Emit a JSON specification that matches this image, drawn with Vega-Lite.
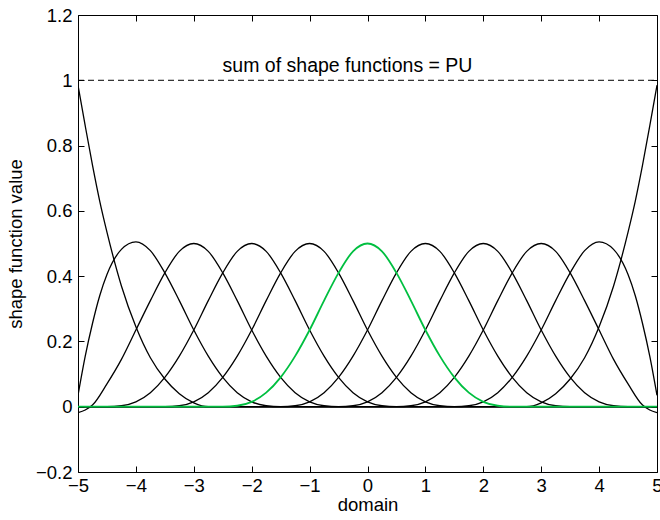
{
  "$schema": "https://vega.github.io/schema/vega-lite/v6.json",
  "width": 579,
  "height": 457,
  "autosize": "none",
  "padding": {"left": 78, "top": 15, "right": 3, "bottom": 48},
  "background": "white",
  "config": {
    "view": {"stroke": "black", "strokeWidth": 1},
    "font": "Liberation Sans",
    "axis": {
      "grid": false,
      "domain": false,
      "tickColor": "black",
      "tickSize": -6,
      "tickWidth": 1,
      "labelColor": "black",
      "labelFont": "Liberation Sans",
      "labelFontSize": 18.5,
      "titleFont": "Liberation Sans",
      "titleFontSize": 18.5,
      "titleFontWeight": "normal",
      "titleColor": "black"
    }
  },
  "datasets": {
    "curves": [
      {"s":"b-5","x":-5,"y":0.985},{"s":"b-5","x":-4.875,"y":0.86},{"s":"b-5","x":-4.75,"y":0.74},{"s":"b-5","x":-4.625,"y":0.63},{"s":"b-5","x":-4.5,"y":0.535},{"s":"b-5","x":-4.25,"y":0.37},{"s":"b-5","x":-4,"y":0.245},{"s":"b-5","x":-3.75,"y":0.15},{"s":"b-5","x":-3.5,"y":0.085},{"s":"b-5","x":-3.25,"y":0.04},{"s":"b-5","x":-3,"y":0.012},{"s":"b-5","x":-2.75,"y":0},{"s":"b-5","x":5,"y":0},

      {"s":"c-4","x":-5,"y":0.035},{"s":"c-4","x":-4.875,"y":0.155},{"s":"c-4","x":-4.75,"y":0.255},{"s":"c-4","x":-4.625,"y":0.34},{"s":"c-4","x":-4.5,"y":0.405},{"s":"c-4","x":-4.25,"y":0.482},{"s":"c-4","x":-4,"y":0.505},{"s":"c-4","x":-3.75,"y":0.478},{"s":"c-4","x":-3.5,"y":0.41},{"s":"c-4","x":-3.25,"y":0.325},{"s":"c-4","x":-3,"y":0.235},{"s":"c-4","x":-2.75,"y":0.155},{"s":"c-4","x":-2.5,"y":0.09},{"s":"c-4","x":-2.25,"y":0.043},{"s":"c-4","x":-2,"y":0.015},{"s":"c-4","x":-1.75,"y":0.003},{"s":"c-4","x":-1.5,"y":0},{"s":"c-4","x":5,"y":0},

      {"s":"c-3","x":-5,"y":-0.018},{"s":"c-3","x":-4.875,"y":-0.01},{"s":"c-3","x":-4.75,"y":0.005},{"s":"c-3","x":-4.5,"y":0.07},{"s":"c-3","x":-4.25,"y":0.145},{"s":"c-3","x":-4,"y":0.235},{"s":"c-3","x":-3.75,"y":0.325},{"s":"c-3","x":-3.5,"y":0.41},{"s":"c-3","x":-3.25,"y":0.476},{"s":"c-3","x":-3,"y":0.5},{"s":"c-3","x":-2.75,"y":0.476},{"s":"c-3","x":-2.5,"y":0.41},{"s":"c-3","x":-2.25,"y":0.325},{"s":"c-3","x":-2,"y":0.235},{"s":"c-3","x":-1.75,"y":0.155},{"s":"c-3","x":-1.5,"y":0.09},{"s":"c-3","x":-1.25,"y":0.043},{"s":"c-3","x":-1,"y":0.015},{"s":"c-3","x":-0.75,"y":0.003},{"s":"c-3","x":-0.5,"y":0},{"s":"c-3","x":5,"y":0},

      {"s":"c-2","x":-5,"y":0},{"s":"c-2","x":-4.5,"y":0},{"s":"c-2","x":-4.25,"y":0.003},{"s":"c-2","x":-4,"y":0.015},{"s":"c-2","x":-3.75,"y":0.043},{"s":"c-2","x":-3.5,"y":0.09},{"s":"c-2","x":-3.25,"y":0.155},{"s":"c-2","x":-3,"y":0.235},{"s":"c-2","x":-2.75,"y":0.325},{"s":"c-2","x":-2.5,"y":0.41},{"s":"c-2","x":-2.25,"y":0.476},{"s":"c-2","x":-2,"y":0.5},{"s":"c-2","x":-1.75,"y":0.476},{"s":"c-2","x":-1.5,"y":0.41},{"s":"c-2","x":-1.25,"y":0.325},{"s":"c-2","x":-1,"y":0.235},{"s":"c-2","x":-0.75,"y":0.155},{"s":"c-2","x":-0.5,"y":0.09},{"s":"c-2","x":-0.25,"y":0.043},{"s":"c-2","x":0,"y":0.015},{"s":"c-2","x":0.25,"y":0.003},{"s":"c-2","x":0.5,"y":0},{"s":"c-2","x":5,"y":0},

      {"s":"c-1","x":-5,"y":0},{"s":"c-1","x":-3.5,"y":0},{"s":"c-1","x":-3.25,"y":0.003},{"s":"c-1","x":-3,"y":0.015},{"s":"c-1","x":-2.75,"y":0.043},{"s":"c-1","x":-2.5,"y":0.09},{"s":"c-1","x":-2.25,"y":0.155},{"s":"c-1","x":-2,"y":0.235},{"s":"c-1","x":-1.75,"y":0.325},{"s":"c-1","x":-1.5,"y":0.41},{"s":"c-1","x":-1.25,"y":0.476},{"s":"c-1","x":-1,"y":0.5},{"s":"c-1","x":-0.75,"y":0.476},{"s":"c-1","x":-0.5,"y":0.41},{"s":"c-1","x":-0.25,"y":0.325},{"s":"c-1","x":0,"y":0.235},{"s":"c-1","x":0.25,"y":0.155},{"s":"c-1","x":0.5,"y":0.09},{"s":"c-1","x":0.75,"y":0.043},{"s":"c-1","x":1,"y":0.015},{"s":"c-1","x":1.25,"y":0.003},{"s":"c-1","x":1.5,"y":0},{"s":"c-1","x":5,"y":0},

      {"s":"c0","x":-5,"y":0},{"s":"c0","x":-2.5,"y":0},{"s":"c0","x":-2.25,"y":0.003},{"s":"c0","x":-2,"y":0.015},{"s":"c0","x":-1.75,"y":0.043},{"s":"c0","x":-1.5,"y":0.09},{"s":"c0","x":-1.25,"y":0.155},{"s":"c0","x":-1,"y":0.235},{"s":"c0","x":-0.75,"y":0.325},{"s":"c0","x":-0.5,"y":0.41},{"s":"c0","x":-0.25,"y":0.476},{"s":"c0","x":0,"y":0.5},{"s":"c0","x":0.25,"y":0.476},{"s":"c0","x":0.5,"y":0.41},{"s":"c0","x":0.75,"y":0.325},{"s":"c0","x":1,"y":0.235},{"s":"c0","x":1.25,"y":0.155},{"s":"c0","x":1.5,"y":0.09},{"s":"c0","x":1.75,"y":0.043},{"s":"c0","x":2,"y":0.015},{"s":"c0","x":2.25,"y":0.003},{"s":"c0","x":2.5,"y":0},{"s":"c0","x":5,"y":0},

      {"s":"c1","x":-5,"y":0},{"s":"c1","x":-1.5,"y":0},{"s":"c1","x":-1.25,"y":0.003},{"s":"c1","x":-1,"y":0.015},{"s":"c1","x":-0.75,"y":0.043},{"s":"c1","x":-0.5,"y":0.09},{"s":"c1","x":-0.25,"y":0.155},{"s":"c1","x":0,"y":0.235},{"s":"c1","x":0.25,"y":0.325},{"s":"c1","x":0.5,"y":0.41},{"s":"c1","x":0.75,"y":0.476},{"s":"c1","x":1,"y":0.5},{"s":"c1","x":1.25,"y":0.476},{"s":"c1","x":1.5,"y":0.41},{"s":"c1","x":1.75,"y":0.325},{"s":"c1","x":2,"y":0.235},{"s":"c1","x":2.25,"y":0.155},{"s":"c1","x":2.5,"y":0.09},{"s":"c1","x":2.75,"y":0.043},{"s":"c1","x":3,"y":0.015},{"s":"c1","x":3.25,"y":0.003},{"s":"c1","x":3.5,"y":0},{"s":"c1","x":5,"y":0},

      {"s":"c2","x":-5,"y":0},{"s":"c2","x":-0.5,"y":0},{"s":"c2","x":-0.25,"y":0.003},{"s":"c2","x":0,"y":0.015},{"s":"c2","x":0.25,"y":0.043},{"s":"c2","x":0.5,"y":0.09},{"s":"c2","x":0.75,"y":0.155},{"s":"c2","x":1,"y":0.235},{"s":"c2","x":1.25,"y":0.325},{"s":"c2","x":1.5,"y":0.41},{"s":"c2","x":1.75,"y":0.476},{"s":"c2","x":2,"y":0.5},{"s":"c2","x":2.25,"y":0.476},{"s":"c2","x":2.5,"y":0.41},{"s":"c2","x":2.75,"y":0.325},{"s":"c2","x":3,"y":0.235},{"s":"c2","x":3.25,"y":0.155},{"s":"c2","x":3.5,"y":0.09},{"s":"c2","x":3.75,"y":0.043},{"s":"c2","x":4,"y":0.015},{"s":"c2","x":4.25,"y":0.003},{"s":"c2","x":4.5,"y":0},{"s":"c2","x":5,"y":0},

      {"s":"c3","x":-5,"y":0},{"s":"c3","x":0.5,"y":0},{"s":"c3","x":0.75,"y":0.003},{"s":"c3","x":1,"y":0.015},{"s":"c3","x":1.25,"y":0.043},{"s":"c3","x":1.5,"y":0.09},{"s":"c3","x":1.75,"y":0.155},{"s":"c3","x":2,"y":0.235},{"s":"c3","x":2.25,"y":0.325},{"s":"c3","x":2.5,"y":0.41},{"s":"c3","x":2.75,"y":0.476},{"s":"c3","x":3,"y":0.5},{"s":"c3","x":3.25,"y":0.476},{"s":"c3","x":3.5,"y":0.41},{"s":"c3","x":3.75,"y":0.325},{"s":"c3","x":4,"y":0.235},{"s":"c3","x":4.25,"y":0.145},{"s":"c3","x":4.5,"y":0.07},{"s":"c3","x":4.75,"y":0.005},{"s":"c3","x":4.875,"y":-0.01},{"s":"c3","x":5,"y":-0.018},

      {"s":"c4","x":-5,"y":0},{"s":"c4","x":1.5,"y":0},{"s":"c4","x":1.75,"y":0.003},{"s":"c4","x":2,"y":0.015},{"s":"c4","x":2.25,"y":0.043},{"s":"c4","x":2.5,"y":0.09},{"s":"c4","x":2.75,"y":0.155},{"s":"c4","x":3,"y":0.235},{"s":"c4","x":3.25,"y":0.325},{"s":"c4","x":3.5,"y":0.41},{"s":"c4","x":3.75,"y":0.478},{"s":"c4","x":4,"y":0.505},{"s":"c4","x":4.25,"y":0.482},{"s":"c4","x":4.5,"y":0.405},{"s":"c4","x":4.625,"y":0.34},{"s":"c4","x":4.75,"y":0.255},{"s":"c4","x":4.875,"y":0.155},{"s":"c4","x":5,"y":0.035},

      {"s":"b5","x":-5,"y":0},{"s":"b5","x":2.75,"y":0},{"s":"b5","x":3,"y":0.012},{"s":"b5","x":3.25,"y":0.04},{"s":"b5","x":3.5,"y":0.085},{"s":"b5","x":3.75,"y":0.15},{"s":"b5","x":4,"y":0.245},{"s":"b5","x":4.25,"y":0.37},{"s":"b5","x":4.5,"y":0.535},{"s":"b5","x":4.625,"y":0.63},{"s":"b5","x":4.75,"y":0.74},{"s":"b5","x":4.875,"y":0.86},{"s":"b5","x":5,"y":0.985}
    ],
    "pu": [{"x": -5, "y": 1}, {"x": 5, "y": 1}],
    "note": [{"x": -0.345, "y": 1.025, "t": "sum of shape functions = PU"}]
  },
  "resolve": {"axis": {"x": "independent", "y": "independent"}},
  "layer": [
    {
      "data": {"name": "curves"},
      "transform": [{"filter": "datum.s != 'c0'"}],
      "mark": {"type": "line", "color": "black", "strokeWidth": 1.3, "interpolate": "monotone", "clip": true},
      "encoding": {
        "x": {"field": "x", "type": "quantitative", "scale": {"domain": [-5, 5], "nice": false, "zero": false},
          "axis": {"orient": "bottom", "values": [-5,-4,-3,-2,-1,0,1,2,3,4,5], "format": "~g", "labelPadding": 10, "title": "domain", "titlePadding": 1, "labelFlush": false}},
        "y": {"field": "y", "type": "quantitative", "scale": {"domain": [-0.2, 1.2], "nice": false, "zero": false},
          "axis": {"orient": "left", "values": [-0.2,0,0.2,0.4,0.6,0.8,1,1.2], "format": "~g", "labelPadding": 12, "title": "shape function value", "titlePadding": 10, "labelFlush": false}},
        "detail": {"field": "s"}
      }
    },
    {
      "data": {"name": "curves"},
      "transform": [{"filter": "datum.s == 'c0'"}],
      "mark": {"type": "line", "color": "#00BF40", "strokeWidth": 1.8, "interpolate": "monotone", "clip": true},
      "encoding": {
        "x": {"field": "x", "type": "quantitative", "axis": null},
        "y": {"field": "y", "type": "quantitative", "axis": null}
      }
    },
    {
      "data": {"name": "pu"},
      "mark": {"type": "line", "color": "black", "strokeWidth": 1, "strokeDash": [6, 4]},
      "encoding": {
        "x": {"field": "x", "type": "quantitative",
          "axis": {"orient": "top", "values": [-5,-4,-3,-2,-1,0,1,2,3,4,5], "labels": false, "title": null}},
        "y": {"field": "y", "type": "quantitative",
          "axis": {"orient": "right", "values": [-0.2,0,0.2,0.4,0.6,0.8,1,1.2], "labels": false, "title": null}}
      }
    },
    {
      "data": {"name": "note"},
      "mark": {"type": "text", "align": "center", "baseline": "alphabetic", "fontSize": 19.5, "font": "Liberation Sans", "color": "black"},
      "encoding": {
        "x": {"field": "x", "type": "quantitative", "axis": null},
        "y": {"field": "y", "type": "quantitative", "axis": null},
        "text": {"field": "t"}
      }
    }
  ]
}
